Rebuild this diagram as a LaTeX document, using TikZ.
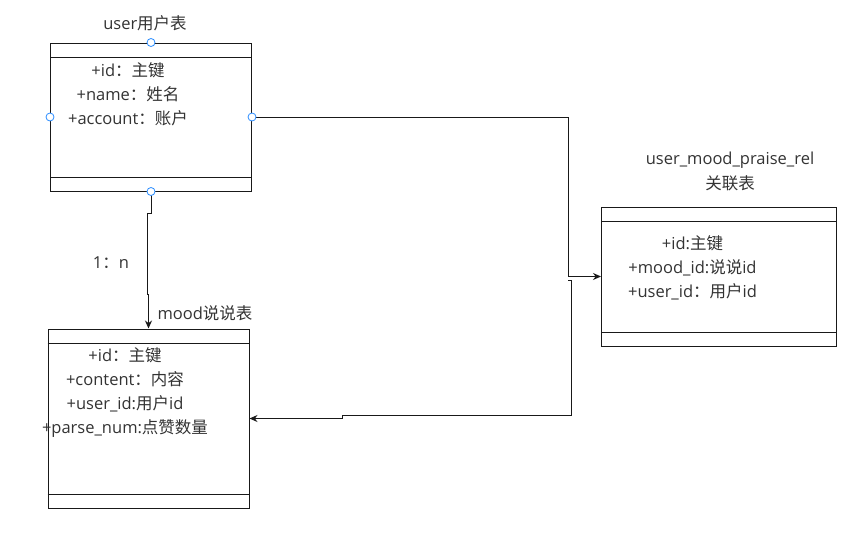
\documentclass[tikz,border=0pt]{standalone}
\usepackage{fontspec}
\setmainfont{Open Sans}
\newfontfamily\cjk{Noto Sans CJK SC}
\usetikzlibrary{arrows.meta}
\definecolor{handleblue}{RGB}{41,140,255}

\begin{document}
\begin{tikzpicture}[x=1pt, y=-1pt, every node/.style={font=\fontsize{16.5}{18}\selectfont, text=black!80},
  tablebox/.style={draw=black!90, line width=1pt, inner sep=0pt},
  fields/.style={align=center, font=\fontsize{16.5}{24}\selectfont},
  link/.style={draw=black!90, line width=1pt},
  handle/.style={draw=handleblue, fill=white, thick}]
\useasboundingbox (0,0) rectangle (862,538);

% Tables
\node[tablebox, minimum width=201pt, minimum height=148pt] (user) at (151,117) {};
\node[tablebox, minimum width=201pt, minimum height=179pt] (mood) at (148.5,418.5) {};
\node[tablebox, minimum width=235pt, minimum height=139pt] (rel) at (719,276.5) {};

% Header and footer rows
\foreach \t in {user, mood, rel} {
  \draw[black!90, line width=1pt] ([yshift=-14.5pt]\t.north west) -- ([yshift=-14.5pt]\t.north east);
  \draw[black!90, line width=1pt] ([yshift=14.5pt]\t.south west) -- ([yshift=14.5pt]\t.south east);
}

% Titles
\node (usertitle) at (145,23) {user{\cjk 用户表}};
\node (moodtitle) at (205,313) {mood{\cjk 说说表}};
\node[align=center, font=\fontsize{16.5}{25}\selectfont] (reltitle) at (730,171.5) {user\_mood\_praise\_rel\\{\cjk 关联表}};

% Fields
\node[fields] (userfields) at (128,94.5) {+id{\cjk ：主键}\\+name{\cjk ：姓名}\\+account{\cjk ：账户}};
\node[fields] (moodfields) at (125,393) {+id{\cjk ：主键}\\+content{\cjk ：内容}\\+user\_id:{\cjk 用户}id\\+parse\_num:{\cjk 点赞数量}};
\node[fields] (relfields) at (692.5,267.7) {+id:{\cjk 主键}\\+mood\_id:{\cjk 说说}id\\+user\_id{\cjk ：用户}id};

% Edges
\coordinate (split) at (571,280);
\draw[link, -{Stealth[length=8pt, width=7pt]}] (user.south) -- (151,213) -- (147,213) -- (147,294) -- (148.5,294) -- (mood.north);
\draw[link, -{Stealth[length=8pt, width=7pt]}] (user.east) -- (568,117) -- (568,276.5) -- (rel.west);
\draw[link, -{Stealth[length=8pt, width=7pt]}] (568,280) -- (split) -- (571,415) -- (342,415) -- (342,418.5) -- (mood.east);
\node (ratio) at (111,263) {1{\cjk ：}n};

% Handles
\foreach \p in {north, south, east, west}
  \draw[handle] (user.\p) circle (4);
\end{tikzpicture}
\end{document}
